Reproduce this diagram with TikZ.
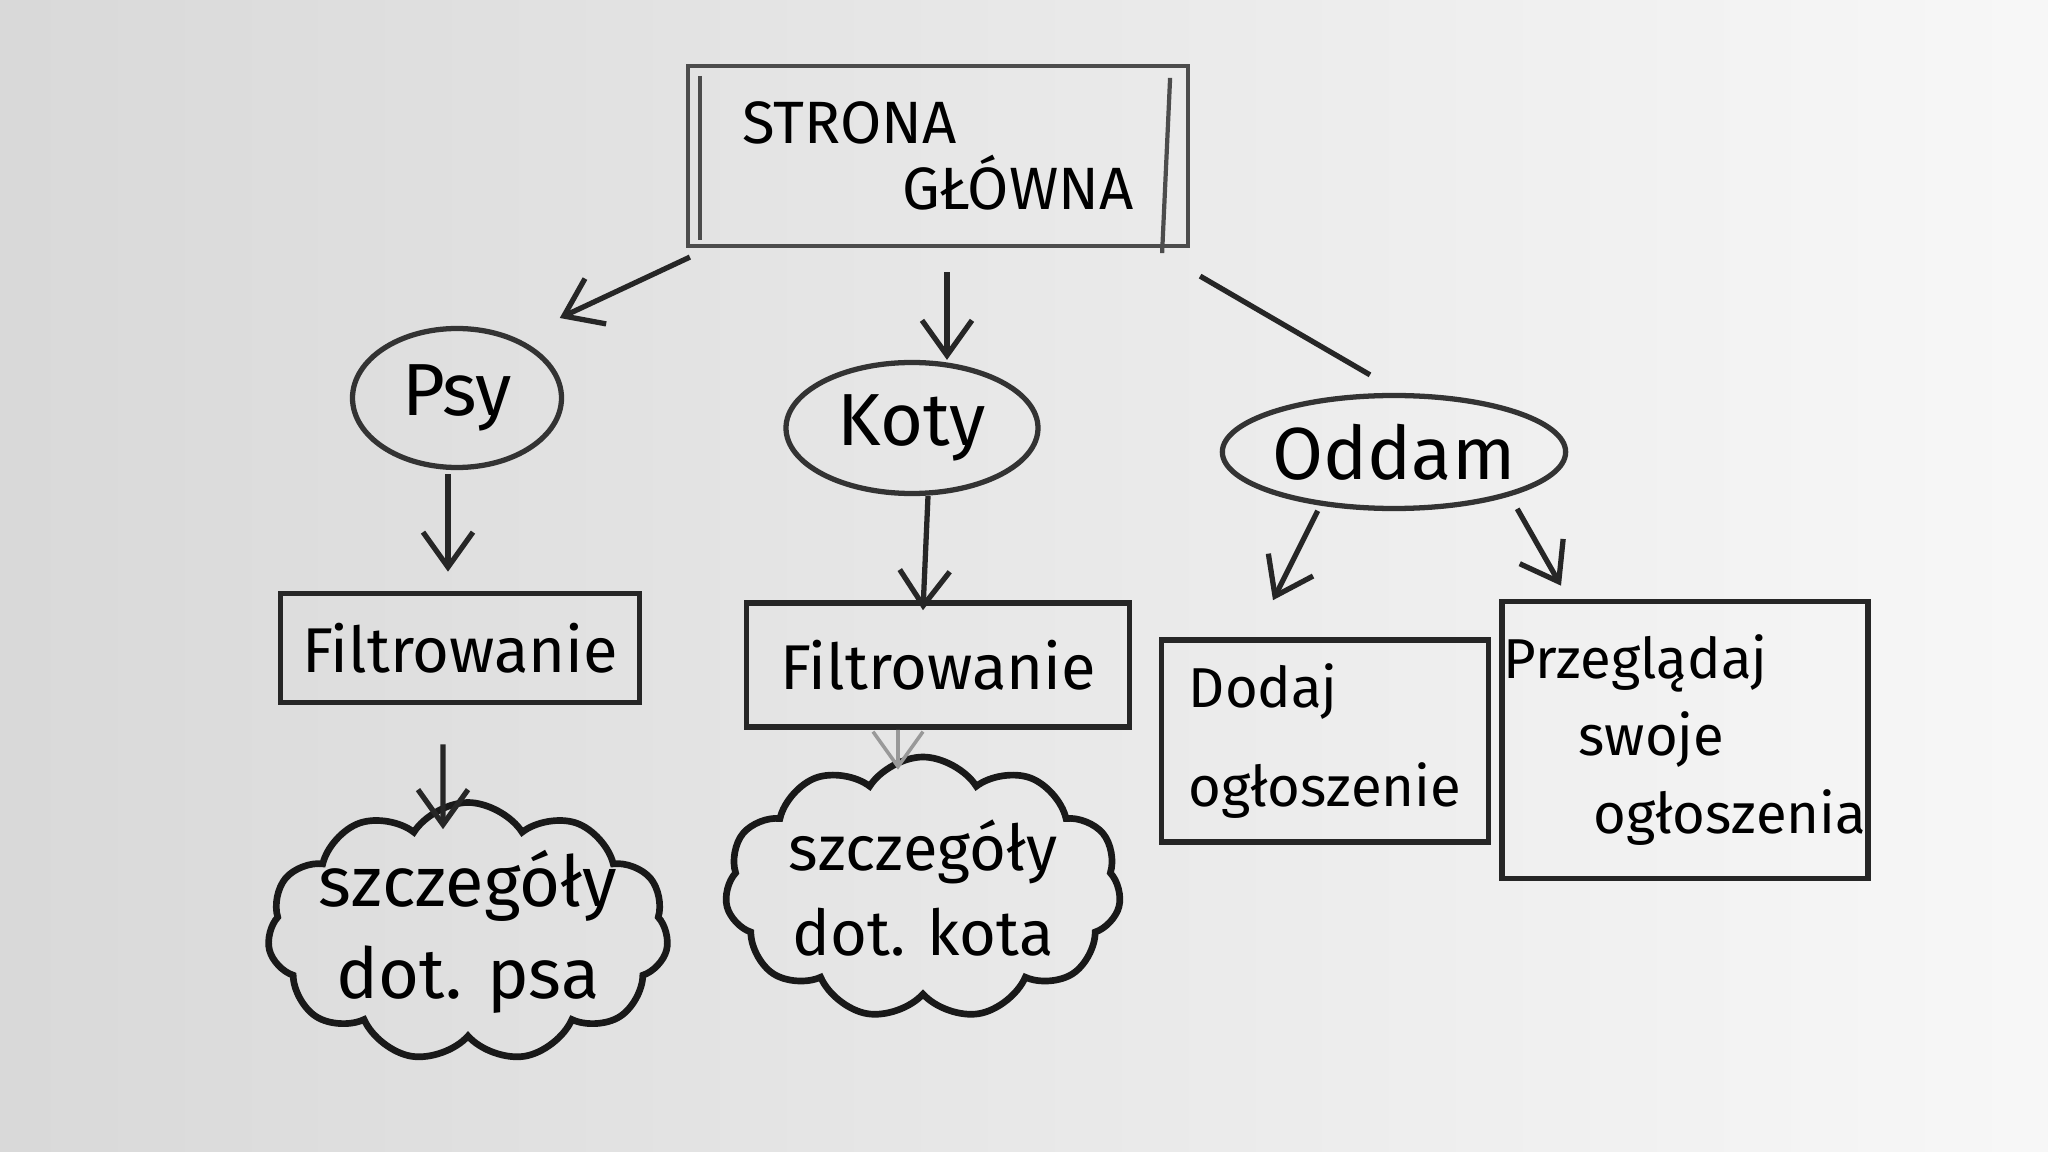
\documentclass[tikz,border=0pt]{standalone}
\usepackage{fontspec}
\setmainfont{Fira Sans}
\usetikzlibrary{arrows.meta,shapes.geometric,shapes.symbols}

\begin{document}
\begin{tikzpicture}[
  ramka/.style={draw=black!85,line width=1.6pt,inner sep=0pt},
  elipsa/.style={ellipse,draw=black!80,line width=1.5pt,inner sep=0pt,font=\fontsize{21}{25}\selectfont},
  chmura/.style={cloud,cloud puffs=11,cloud puff arc=115,cloud ignores aspect,draw=black!90,line width=1.9pt,
    align=center,inner xsep=-0.6cm,inner ysep=-0.35cm},
  strzalka/.style={-{Straight Barb[length=3.5mm,width=5mm]},line width=1.5pt,black!85},
  kreska/.style={line width=1.2pt,black!70}
]
% tablica
\fill[left color=black!15,right color=black!3] (0,0) rectangle (20.48,-11.52);

% strona glowna
\node[ramka,draw=black!70,line width=1.2pt,minimum width=5cm,minimum height=1.8cm,align=left,font=\fontsize{17}{19}\selectfont] (glowna) at (9.38,-1.56)
  {STRONA\\\hspace*{1.6cm}GŁÓWNA};
\draw[kreska] ([xshift=0.14cm,yshift=-0.12cm]glowna.north west)--([xshift=0.14cm,yshift=0.08cm]glowna.south west);
\draw[kreska] ([xshift=-0.2cm,yshift=-0.14cm]glowna.north east)--([xshift=-0.28cm,yshift=-0.05cm]glowna.south east);

% kategorie
\node[elipsa,minimum width=2.09cm,minimum height=1.39cm] (psy) at (4.57,-3.98) {Psy};
\node[elipsa,minimum width=2.52cm,minimum height=1.31cm] (koty) at (9.12,-4.28) {Koty};
\node[elipsa,minimum width=3.26cm,minimum height=1.13cm] (oddam) at (13.94,-4.52) {Oddam};

% filtrowanie
\node[ramka,minimum width=3.59cm,minimum height=1.09cm,font=\fontsize{18}{22}\selectfont] (filtrpsy) at (4.60,-6.48) {Filtrowanie};
\node[ramka,minimum width=3.83cm,minimum height=1.24cm,font=\fontsize{18}{22}\selectfont] (filtrkoty) at (9.38,-6.65) {Filtrowanie};

% szczegoly
\node[chmura,minimum width=4.01cm,minimum height=2.59cm,font=\fontsize{20}{26}\selectfont] (szczegpsy) at (4.68,-9.32)
  {szczegóły\\dot. psa};
\node[chmura,minimum width=3.96cm,minimum height=2.62cm,font=\fontsize{18}{24}\selectfont] (szczegkoty) at (9.23,-8.88)
  {szczegóły\\dot. kota};

% ogloszenia
\node[ramka,minimum width=3.27cm,minimum height=2.02cm,align=left,font=\fontsize{16}{28}\selectfont] (dodaj) at (13.25,-7.41)
  {Dodaj\\ogłoszenie};
\node[ramka,minimum width=3.66cm,minimum height=2.77cm,align=left,font=\fontsize{16}{22}\selectfont] (przeglad) at (16.85,-7.40)
  {Przeglądaj\\\hspace*{0.75cm}swoje\\\hspace*{0.9cm}ogłoszenia};

% strzalki
\draw[strzalka] ([xshift=0.04cm,yshift=-0.09cm]glowna.south west)--([xshift=0.27cm,yshift=0.29cm]psy.north east);
\draw[strzalka] ([xshift=0.09cm,yshift=-0.24cm]glowna.south)--([xshift=0.35cm]koty.north);
\draw[line width=1.5pt,black!85] ([xshift=0.1cm,yshift=-0.28cm]glowna.south east)--([xshift=-0.24cm,yshift=0.18cm]oddam.north);
\draw[strzalka] ([xshift=-0.09cm,yshift=-0.04cm]psy.south)--([xshift=-0.12cm,yshift=0.19cm]filtrpsy.north);
\draw[strzalka] ([xshift=0.16cm]koty.south)--([xshift=-0.15cm,yshift=-0.1cm]filtrkoty.north);
\draw[strzalka] ([xshift=-0.17cm,yshift=-0.39cm]filtrpsy.south)--([xshift=-0.25cm,yshift=-0.3cm]szczegpsy.north);
\draw[strzalka,black!40,line width=1pt] ([xshift=-0.4cm]filtrkoty.south)--([xshift=-0.25cm,yshift=-0.16cm]szczegkoty.north);
\draw[strzalka] ([xshift=0.47cm,yshift=-0.17cm]oddam.south west)--([xshift=-0.52cm,yshift=0.37cm]dodaj.north);
\draw[strzalka] ([yshift=-0.15cm]oddam.south east)--([xshift=-1.24cm,yshift=0.13cm]przeglad.north);
\end{tikzpicture}
\end{document}
